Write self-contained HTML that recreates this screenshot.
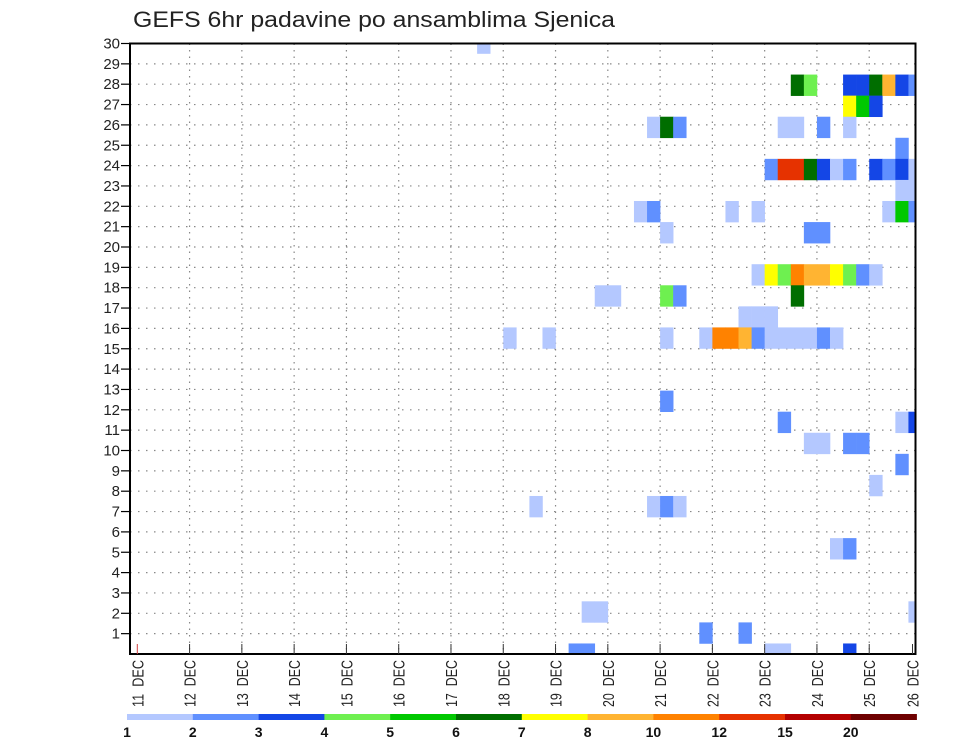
<!DOCTYPE html>
<html><head><meta charset="utf-8"><style>
html,body{margin:0;padding:0;background:#fff;}
svg{display:block;font-family:"Liberation Sans",sans-serif;}
</style></head><body>
<svg id="chart" width="960" height="742" viewBox="0 0 960 742" xmlns="http://www.w3.org/2000/svg">
<text x="133" y="27" font-size="22" fill="#222" textLength="482" lengthAdjust="spacingAndGlyphs">GEFS 6hr padavine po ansamblima Sjenica</text>
<defs><clipPath id="plotclip"><rect x="130" y="43.5" width="785.5" height="610.5"/></clipPath></defs>
<g id="grid"></g>
<g id="cells" clip-path="url(#plotclip)"></g>
<rect x="130" y="43.5" width="785.5" height="610.5" fill="none" stroke="#000" stroke-width="2"/>
<g id="yaxis"></g>
<g id="xaxis"></g>
<g id="legend"></g>
</svg>
<script>
// member index (row), 6h step index (from 11 DEC 00z), precip value (mm)
const members = [29,27,27,27,27,27,27,27,27,26,26,26,25,25,25,25,25,25,25,24,23,23,23,23,23,23,23,23,23,23,23,22,22,21,21,21,21,21,21,21,20,20,20,18,18,18,18,18,18,18,18,18,18,17,17,17,17,17,16,16,16,15,15,15,15,15,15,15,15,15,15,15,15,15,15,12,11,11,11,10,10,10,10,9,8,7,7,7,7,5,5,2,2,2,1,1,0,0,0,0,0];
const steps   = [26,50,51,54,55,56,57,58,59,54,55,56,39,40,41,49,50,52,54,58,48,49,50,51,52,53,54,56,57,58,59,58,59,38,39,45,47,57,58,59,40,51,52,47,48,49,50,51,52,53,54,55,56,35,36,40,41,50,46,47,48,28,31,40,43,44,45,46,47,48,49,50,51,52,53,40,49,58,59,51,52,54,55,58,56,30,39,40,41,53,54,34,35,59,43,46,33,34,48,49,54];
const values  = [1.5,6.5,4.5,3.5,3.5,6.5,9,3.5,2.5,7.5,5.5,3.5,1.5,6.5,2.5,1.5,1.5,2.5,1.5,2.5,2.5,13,13,6.5,3.5,1.5,2.5,3.5,2.5,3.5,1.5,1.5,1.5,1.5,2.5,1.5,1.5,1.5,5.5,2.5,1.5,2.5,2.5,1.5,7.5,4.5,11,9,9,7.5,4.5,2.5,1.5,1.5,1.5,4.5,2.5,6.5,1.5,1.5,1.5,1.5,1.5,1.5,1.5,11,11,9,2.5,1.5,1.5,1.5,1.5,2.5,1.5,2.5,2.5,1.5,3.5,1.5,1.5,2.5,2.5,2.5,1.5,1.5,1.5,2.5,1.5,1.5,2.5,1.5,1.5,1.5,2.5,2.5,2.5,2.5,1.5,1.5,3.5];
const levels = [1,2,3,4,5,6,7,8,10,12,15,20];
const levelColors = ["#b4c8ff","#6090ff","#1446e6","#6ef050","#00c800","#006e00","#ffff00","#ffb432","#ff8200","#e63200","#b40000","#6e0000"];
const dayLabels = ["11 DEC","12 DEC","13 DEC","14 DEC","15 DEC","16 DEC","17 DEC","18 DEC","19 DEC","20 DEC","21 DEC","22 DEC","23 DEC","24 DEC","25 DEC","26 DEC"];
const yTicks = [1,2,3,4,5,6,7,8,9,10,11,12,13,14,15,16,17,18,19,20,21,22,23,24,25,26,27,28,29,30];

const NS="http://www.w3.org/2000/svg";
const L=130,R=915.5,T=43.5,B=654;
const stepW=13.07, x0=137.3;
function xStep(i){return x0+stepW*i;}
function xDay(d){return x0+stepW*4*d;}
function yMember(j){return B-21.07*j;}
function yAxis(v){return B-(B-T)*v/30;}
function colorFor(v){let c=null;for(let k=0;k<levels.length;k++){if(v>=levels[k])c=levelColors[k];}return c;}
function mk(tag,attrs,parent){const e=document.createElementNS(NS,tag);for(const k in attrs)e.setAttribute(k,attrs[k]);parent.appendChild(e);return e;}

const grid=document.getElementById('grid');
for(const v of yTicks){
  const y=yAxis(v);
  const ln=mk('line',{x1:L,x2:R,y1:y,y2:y,stroke:'#888','stroke-width':1.2,'stroke-dasharray':'1.5,6.5'},grid);
  
  
}
for(let d=1;d<dayLabels.length-1;d++){
  const x=xDay(d);
  const ln=mk('line',{x1:x,x2:x,y1:T,y2:B,stroke:'#888','stroke-width':1.2,'stroke-dasharray':'1.5,5'},grid);
  
  
}

const cells=document.getElementById('cells');
for(let n=0;n<members.length;n++){
  const c=colorFor(values[n]); if(!c) continue;
  const yc=yMember(members[n]);
  const r=mk('rect',{x:xStep(steps[n]),y:yc-10.535,width:stepW+0.3,height:21.07+0.3,fill:c},cells);
  
  
}

const ya=document.getElementById('yaxis');
for(const v of yTicks){
  const y=yAxis(v);
  const tk=mk('line',{x1:L-9,x2:L,y1:y,y2:y,stroke:'#000','stroke-width':1.2},ya);
  
  
  const t=mk('text',{x:L-10,y:y+5,'font-size':15,'text-anchor':'end',fill:'#222'},ya);
  t.textContent=v;
  
  
}

const xa=document.getElementById('xaxis');
for(let d=0;d<dayLabels.length;d++){
  let x=xDay(d); if(x>R) x=R-3;
  const tk=mk('line',{x1:x,x2:x,y1:B-10,y2:B,stroke:d===0?'#d04040':'#333','stroke-width':1},xa);
  
  
  const t=mk('text',{x:0,y:0,'font-size':16,'text-anchor':'end',fill:'#222',textLength:47,lengthAdjust:'spacingAndGlyphs',transform:`translate(${x+6},${B+6}) rotate(-90)`},xa);
  t.textContent=dayLabels[d].replace(' ','\u00a0\u00a0');
  
  
}

const lg=document.getElementById('legend');
const segW=65.8, lx=127;
for(let k=0;k<levels.length;k++){
  const r=mk('rect',{x:lx+segW*k,y:714,width:segW+0.3,height:6,fill:levelColors[k]},lg);
  
  
  const t=mk('text',{x:lx+segW*k,y:737,'font-size':14,'font-weight':'bold','text-anchor':'middle',fill:'#111'},lg);
  t.textContent=levels[k];
  
  
}
</script>
</body></html>
